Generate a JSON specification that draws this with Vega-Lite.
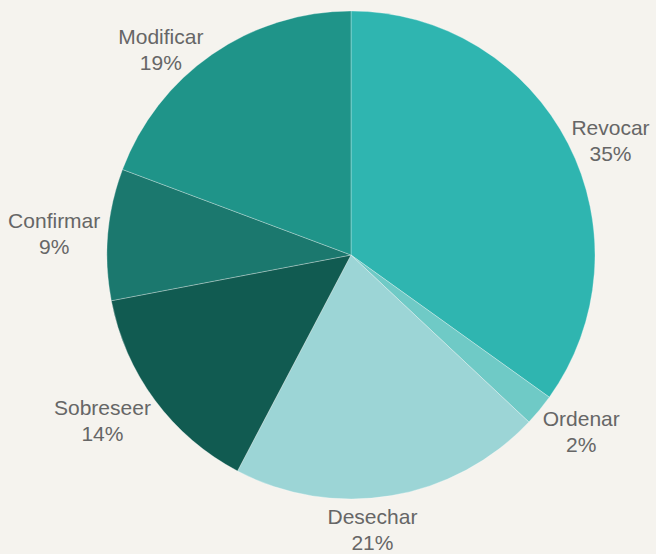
{
  "$schema": "https://vega.github.io/schema/vega-lite/v6.json",
  "width": 490,
  "height": 490,
  "padding": {"left": 106, "top": 10, "right": 60, "bottom": 54},
  "autosize": {"type": "none"},
  "background": "#f5f3ee",
  "config": {"view": {"stroke": null}},
  "data": {
    "values": [
      {"i": 1, "cat": "Revocar", "v": 34.9, "pct": "35%"},
      {"i": 2, "cat": "Ordenar", "v": 2.1, "pct": "2%"},
      {"i": 3, "cat": "Desechar", "v": 20.7, "pct": "21%"},
      {"i": 4, "cat": "Sobreseer", "v": 14.3, "pct": "14%"},
      {"i": 5, "cat": "Confirmar", "v": 8.7, "pct": "9%"},
      {"i": 6, "cat": "Modificar", "v": 19.3, "pct": "19%"}
    ]
  },
  "transform": [{"calculate": "datum.cat + '\\n' + datum.pct", "as": "label"}],
  "encoding": {
    "theta": {"field": "v", "type": "quantitative", "stack": true},
    "order": {"field": "i", "type": "quantitative"}
  },
  "layer": [
    {
      "mark": {"type": "arc", "outerRadius": 244, "stroke": "#ffffff", "strokeWidth": 0.3},
      "encoding": {
        "color": {
          "field": "cat",
          "type": "nominal",
          "legend": null,
          "scale": {
            "domain": ["Revocar", "Ordenar", "Desechar", "Sobreseer", "Confirmar", "Modificar"],
            "range": ["#2fb5b0", "#6fcac6", "#9cd5d6", "#115b51", "#1b786e", "#1f9489"]
          }
        }
      }
    },
    {
      "mark": {
        "type": "text",
        "radius": 250,
        "lineBreak": "\n",
        "fontSize": 21,
        "font": "Liberation Sans",
        "color": "#666666",
        "lineHeight": 26,
        "align": "center",
        "baseline": "middle",
        "dx": {"expr": "sin(PI*(datum.v_start+datum.v_end)/100) > 0.3 ? length(datum.cat)*5.3 : (sin(PI*(datum.v_start+datum.v_end)/100) < -0.3 ? -length(datum.cat)*5.3 : -20)"},
        "dy": {"expr": "-12 + max(0, -cos(PI*(datum.v_start+datum.v_end)/100))*29"}
      },
      "encoding": {"text": {"field": "label", "type": "nominal"}}
    }
  ]
}
